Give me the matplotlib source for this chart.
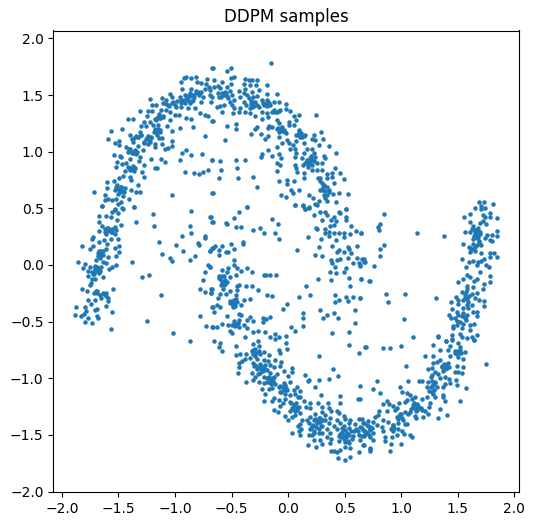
import matplotlib
matplotlib.use("Agg")
import matplotlib.pyplot as plt

TITLE = "DDPM samples"

upper_left = [(-0.675,1.736),(-0.899,1.657),(-0.923,1.648),(-0.943,1.613),(-0.861,1.648),(-0.81,1.657),(-0.805,1.613),(-0.716,1.639),(-0.725,1.595),(-0.766,1.604),(-0.698,1.575),(-0.934,1.551),(-0.855,1.551),(-0.81,1.539),(-0.737,1.551),(-0.864,1.516),(-0.796,1.53),(-0.914,1.501),(-0.958,1.486),(-0.84,1.501),(-0.781,1.516),(-0.884,1.457),(-0.84,1.457),(-0.752,1.486),(-0.692,1.501),(-1.041,1.51),(-1.111,1.478),(-1.218,1.463),(-1.023,1.486),(-1.076,1.457),(-1.017,1.442),(-0.943,1.457),(-0.914,1.433),(-0.869,1.428),(-0.678,1.442),(-0.766,1.442),(-1.105,1.428),(-1.061,1.413),(-1.206,1.413),(-1.164,1.41),(-0.987,1.398),(-0.943,1.392),(-0.884,1.383),(-0.825,1.383),(-0.781,1.339),(-0.737,1.325),(-0.707,1.316),(-0.675,1.272),(-1.306,1.357),(-1.238,1.363),(-1.2,1.36),(-1.12,1.369),(-1.076,1.369),(-1.047,1.354),(-1.002,1.325),(-0.964,1.325),(-0.905,1.295),(-0.855,1.286),(-1.041,1.281),(-1.105,1.316),(-1.15,1.31),(-1.129,1.295),(-1.164,1.281),(-1.244,1.319),(-1.412,1.286),(-1.368,1.286),(-1.277,1.266),(-1.223,1.266),(-1.297,1.228),(-1.259,1.228),(-1.194,1.237),(-1.15,1.237),(-1.067,1.228),(-0.958,1.207),(-0.837,1.216),(-1.465,1.198),(-1.563,1.181),(-1.179,1.198),(-1.135,1.192),(-1.164,1.172),(-1.023,1.184),(-1.306,1.178),(-1.395,1.145),(-1.341,1.139),(-1.297,1.148),(-1.238,1.139),(-0.731,1.137),(-1.38,1.11),(-1.327,1.128),(-1.253,1.11),(-1.209,1.119),(-1.141,1.119),(-1.111,1.122),(-1.589,1.11),(-1.498,1.095),(-1.533,1.075),(-1.371,1.089),(-1.277,1.081),(-1.223,1.089),(-1.023,1.095),(-1.179,1.069),(-1.111,1.069),(-1.023,1.054),(-1.495,1.06),(-1.436,1.04),(-1.395,1.022),(-1.327,1.054),(-1.283,1.016),(-1.356,1.016),(-1.179,1.045),(-1.061,1.031),(-1.091,1.022),(-1.415,1.001),(-1.377,0.987),(-1.341,0.981),(-0.905,1.016),(-0.934,0.987),(-0.855,0.969),(-0.757,0.978),(-0.675,0.925),(-1.536,0.972),(-1.489,0.963),(-1.474,0.951),(-1.306,0.957),(-1.4,0.934),(-1.318,0.922),(-1.209,0.937),(-1.12,0.937),(-1.091,0.913),(-0.952,0.925),(-1.513,0.913),(-1.436,0.898),(-1.468,0.892),(-1.277,0.884),(-1.519,0.863),(-1.371,0.869),(-1.415,0.863),(-1.35,0.854),(-1.395,0.84),(-1.445,0.834),(-1.288,0.825),(-1.179,0.854),(-1.159,0.854),(-0.908,0.819),(-0.828,0.81),(-0.784,0.801),(-0.749,0.819),(-0.704,0.837),(-1.46,0.787),(-1.495,0.766),(-1.395,0.781),(-1.277,0.775),(-1.598,0.731),(-1.542,0.737),(-1.386,0.746),(-1.513,0.707),(-1.474,0.692),(-1.324,0.704),(-1.604,0.681),(-1.533,0.663),(-1.489,0.663),(-1.454,0.648),(-1.386,0.663),(-1.713,0.643),(-1.341,0.643),(-1.312,0.648),(-1.504,0.628),(-1.023,0.616),(-0.675,0.634),(-1.622,0.616),(-1.46,0.61),(-1.592,0.584),(-1.622,0.575),(-1.554,0.575),(-1.518,0.581),(-1.409,0.578),(-1.474,0.56),(-1.504,0.54),(-1.642,0.519),(-1.359,0.51),(-1.465,0.501),(-1.533,0.493)]

upper_middle = [(-0.155,1.78),(-0.509,1.736),(-0.544,1.71),(-0.668,1.736),(-0.482,1.657),(-0.509,1.648),(-0.385,1.639),(-0.35,1.633),(-0.32,1.633),(-0.279,1.63),(-0.651,1.63),(-0.58,1.619),(-0.509,1.595),(-0.394,1.595),(-0.335,1.589),(-0.288,1.586),(-0.19,1.586),(-0.624,1.58),(-0.541,1.575),(-0.659,1.569),(-0.6,1.56),(-0.379,1.551),(-0.261,1.542),(-0.438,1.539),(-0.518,1.539),(-0.689,1.545),(-0.556,1.53),(-0.32,1.53),(-0.102,1.507),(-0.19,1.507),(-0.586,1.516),(-0.394,1.522),(-0.359,1.501),(-0.276,1.492),(-0.677,1.486),(-0.541,1.492),(-0.429,1.48),(-0.615,1.486),(-0.187,1.457),(-0.232,1.457),(-0.474,1.457),(-0.394,1.442),(-0.32,1.442),(-0.084,1.442),(-0.128,1.439),(-0.512,1.442),(-0.173,1.433),(-0.571,1.413),(-0.022,1.422),(-0.497,1.413),(-0.276,1.413),(-0.211,1.413),(-0.606,1.407),(-0.37,1.413),(-0.63,1.392),(-0.32,1.398),(-0.429,1.383),(-0.482,1.383),(-0.261,1.392),(-0.022,1.375),(-0.128,1.369),(-0.069,1.369),(0.013,1.363),(-0.586,1.348),(-0.488,1.345),(-0.438,1.354),(-0.379,1.354),(-0.341,1.339),(-0.232,1.354),(-0.187,1.339),(-0.143,1.348),(-0.297,1.313),(-0.182,1.31),(0.096,1.322),(0.054,1.313),(0.243,1.322),(-0.232,1.286),(-0.099,1.281),(0.066,1.278),(-0.668,1.269),(-0.084,1.251),(0.01,1.26),(-0.465,1.242),(-0.536,1.225),(-0.173,1.228),(-0.055,1.222),(0.004,1.237),(0.048,1.234),(-0.276,1.216),(-0.297,1.204),(-0.182,1.207),(-0.143,1.222),(-0.099,1.198),(-0.04,1.192),(-0.465,1.198),(0.093,1.192),(0.113,1.163),(-0.022,1.163),(-0.332,1.154),(-0.243,1.154),(0.287,1.172),(-0.182,1.142),(-0.084,1.128),(0.072,1.145),(0.152,1.145),(0.226,1.148),(-0.208,1.116),(-0.562,1.101),(0.208,1.116),(0.108,1.128),(0.305,1.11),(-0.01,1.104),(0.072,1.098),(0.24,1.104),(-0.055,1.081),(0.004,1.075),(0.137,1.081),(0.043,1.06),(0.27,1.06),(0.358,1.048),(-0.102,1.04),(0.013,1.022),(0.063,1.022),(0.167,1.022),(0.211,1.022),(-0.182,1.013),(0.226,0.987),(0.137,0.987),(0.072,0.987),(0.42,0.987),(-0.084,0.978),(-0.232,0.978),(-0.243,0.957),(-0.146,0.96),(-0.066,0.942),(0.063,0.951),(0.314,0.963),(0.329,0.942),(0.122,0.942),(0.196,0.942),(0.24,0.951),(0.255,0.898),(0.167,0.913),(-0.677,0.925),(-0.598,0.916),(-0.465,0.925),(-0.385,0.925),(0.131,0.884),(-0.099,0.898),(-0.075,0.881),(0.063,0.881),(0.172,0.869),(0.211,0.884),(0.299,0.898),(-0.456,0.854),(-0.589,0.837),(0.072,0.854),(0.411,0.854),(-0.102,0.828),(0.078,0.819),(0.137,0.81),(0.211,0.84),(0.255,0.84),(0.299,0.84),(0.344,0.804),(0.388,0.816),(0.456,0.81),(0.143,0.772),(-0.314,0.775),(-0.615,0.766),(-0.447,0.766),(0.261,0.766),(0.344,0.766),(0.388,0.775),(0.491,0.757),(-0.084,0.74),(-0.013,0.749),(0.048,0.74),(0.285,0.737),(0.403,0.722),(-0.013,0.713),(-0.279,0.687),(0.314,0.707),(0.344,0.687),(0.025,0.66),(0.093,0.66),(-0.668,0.634),(0.279,0.663),(0.358,0.663),(-0.066,0.616),(-0.022,0.598),(0.04,0.634),(0.181,0.616),(0.314,0.619),(0.394,0.625),(0.447,0.634),(0.526,0.625),(0.217,0.59),(0.329,0.59),(0.426,0.56),(0.344,0.566),(0.27,0.566),(0.24,0.54),(0.057,0.528),(0.128,0.528),(-0.367,0.51),(0.181,0.51),(0.515,0.493),(0.152,0.493)]

mid_left = [(-1.642,0.518),(-1.359,0.509),(-1.46,0.495),(-1.533,0.486),(-1.554,0.465),(-1.504,0.456),(-1.191,0.448),(-0.855,0.474),(-1.669,0.43),(-1.607,0.436),(-1.563,0.424),(-0.687,0.421),(-1.51,0.401),(-1.669,0.377),(-1.341,0.377),(-0.669,0.377),(-1.642,0.348),(-1.474,0.351),(-1.182,0.342),(-0.864,0.342),(-1.592,0.324),(-1.533,0.339),(-1.622,0.295),(-1.675,0.298),(-1.554,0.295),(-1.519,0.31),(-0.855,0.28),(-1.607,0.271),(-1.533,0.271),(-0.934,0.254),(-0.731,0.26),(-0.731,0.242),(-1.722,0.251),(-1.731,0.227),(-1.563,0.227),(-1.501,0.227),(-1.625,0.218),(-1.138,0.201),(-1.669,0.201),(-0.799,0.192),(-1.598,0.183),(-0.987,0.174),(-0.79,0.174),(-1.819,0.165),(-1.722,0.165),(-1.492,0.165),(-1.749,0.142),(-1.527,0.148),(-1.613,0.142),(-0.669,0.148),(-0.926,0.121),(-0.687,0.121),(-1.651,0.127),(-1.492,0.113),(-1.681,0.104),(-1.637,0.089),(-1.111,0.095),(-1.519,0.077),(-0.819,0.077),(-1.041,0.06),(-1.592,0.068),(-1.666,0.06),(-1.696,0.045),(-0.864,0.042),(-1.023,0.033),(-1.855,0.024),(-1.377,0.024),(-1.637,0.024),(-1.607,0.016),(-1.793,0.007),(-1.519,-0.002),(-1.754,-0.014),(-1.71,-0.008),(-1.651,-0.017),(-1.554,-0.02),(-0.707,-0.002),(-0.687,-0.02),(-1.814,-0.029),(-1.583,-0.037),(-1.71,-0.043),(-1.766,-0.055),(-1.66,-0.052),(-0.731,-0.064),(-1.725,-0.079),(-1.672,-0.073),(-1.766,-0.099),(-1.634,-0.105),(-1.226,-0.09),(-1.288,-0.108),(-1.731,-0.123),(-1.704,-0.126),(-0.749,-0.134),(-1.74,-0.161),(-1.749,-0.179),(-1.819,-0.214),(-1.545,-0.214),(-0.775,-0.214),(-0.678,-0.214),(-1.775,-0.231),(-1.69,-0.229),(-0.678,-0.246),(-0.731,-0.24),(-1.719,-0.246),(-1.637,-0.249),(-1.666,-0.264),(-1.607,-0.27),(-1.12,-0.267),(-1.651,-0.293),(-1.592,-0.293),(-1.769,-0.305),(-1.704,-0.311),(-1.589,-0.32),(-1.74,-0.346),(-1.873,-0.373),(-1.793,-0.373),(-1.607,-0.364),(-0.669,-0.373),(-1.687,-0.39),(-1.71,-0.399),(-1.784,-0.408),(-1.554,-0.417),(-1.802,-0.434),(-1.881,-0.443),(-1.828,-0.452),(-1.687,-0.452),(-0.775,-0.452),(-1.766,-0.47),(-1.678,-0.47),(-1.244,-0.496),(-1.793,-0.505),(-1.731,-0.514),(-0.722,-0.54),(-0.669,-0.549),(-1.563,-0.567),(-1.014,-0.602),(-0.864,-0.672)]

mid_center = [(-0.367,0.509),(0.057,0.527),(0.128,0.518),(0.181,0.501),(0.152,0.492),(0.255,0.527),(-0.438,0.465),(0.279,0.471),(0.329,0.465),(0.226,0.439),(0.344,0.442),(0.447,0.471),(0.515,0.492),(0.408,0.427),(0.515,0.427),(0.462,0.456),(-0.68,0.421),(-0.474,0.412),(-0.146,0.404),(0.299,0.398),(0.379,0.395),(0.426,0.392),(0.515,0.398),(-0.668,0.377),(-0.553,0.368),(-0.536,0.359),(-0.093,0.359),(-0.465,0.333),(-0.42,0.333),(-0.252,0.324),(-0.314,0.307),(0.243,0.324),(0.252,0.315),(0.373,0.348),(0.403,0.354),(0.553,0.342),(0.329,0.318),(0.323,0.28),(0.597,0.298),(0.358,0.289),(0.403,0.286),(0.447,0.28),(0.491,0.286),(0.358,0.257),(-0.217,0.28),(-0.12,0.28),(0.544,0.271),(0.641,0.28),(0.172,0.245),(0.287,0.227),(0.491,0.245),(-0.084,0.227),(0.42,0.221),(-0.403,0.207),(-0.403,0.183),(-0.509,0.183),(-0.645,0.171),(-0.58,0.165),(0.27,0.157),(0.385,0.165),(-0.482,0.139),(-0.668,0.148),(0.447,0.13),(0.526,0.157),(0.606,0.165),(0.535,0.139),(0.075,0.13),(-0.615,0.13),(-0.689,0.121),(-0.553,0.113),(-0.527,0.113),(0.432,0.113),(0.491,0.113),(0.553,0.104),(-0.615,0.086),(0.234,0.086),(0.296,0.077),(0.462,0.054),(0.606,0.06),(0.668,0.051),(0.432,0.045),(0.379,0.045),(0.526,0.06),(-0.482,0.042),(0.391,0.015),(0.571,0.015),(0.624,0.015),(0.677,0.024),(0.633,-0.005),(-0.482,0.001),(-0.527,-0.029),(-0.453,-0.029),(-0.689,-0.02),(-0.359,-0.029),(0.417,-0.02),(0.515,-0.023),(-0.583,-0.046),(-0.412,-0.055),(-0.541,-0.058),(-0.323,-0.064),(0.373,-0.064),(0.42,-0.073),(0.491,-0.064),(-0.615,-0.093),(-0.571,-0.093),(-0.512,-0.102),(-0.459,-0.087),(-0.217,-0.09),(-0.196,-0.09),(-0.164,-0.09),(-0.111,-0.09),(-0.615,-0.117),(-0.556,-0.132),(0.261,-0.126),(0.376,-0.134),(0.535,-0.117),(0.641,-0.126),(0.721,-0.143),(-0.586,-0.152),(-0.541,-0.152),(-0.438,-0.176),(-0.453,-0.19),(-0.571,-0.176),(-0.371,-0.187),(-0.323,-0.187),(0.155,-0.187),(0.544,-0.187),(-0.577,-0.211),(-0.674,-0.214),(-0.27,-0.223),(-0.512,-0.229),(-0.453,-0.223),(-0.68,-0.249),(-0.6,-0.258),(-0.553,-0.258),(-0.459,-0.264),(-0.19,-0.267),(-0.146,-0.273),(0.093,-0.284),(0.19,-0.267),(0.411,-0.264),(0.515,-0.287),(0.571,-0.284),(0.633,-0.293),(-0.624,-0.293),(-0.394,-0.311),(-0.341,-0.302),(-0.482,-0.308),(0.447,-0.308),(0.526,-0.314),(0.411,-0.329),(-0.512,-0.337),(-0.477,-0.343),(-0.453,-0.323),(-0.63,-0.352),(-0.418,-0.352),(-0.013,-0.346),(-0.668,-0.373),(-0.6,-0.373),(-0.491,-0.367),(-0.049,-0.39),(0.279,-0.399),(0.588,-0.399),(-0.651,-0.417),(0.128,-0.426),(0.403,-0.426),(0.344,-0.443),(-0.438,-0.434),(-0.418,-0.44),(-0.544,-0.452),(-0.335,-0.461),(-0.164,-0.461),(0.128,-0.47),(0.305,-0.47),(0.438,-0.47),(-0.226,-0.47),(-0.193,-0.475),(-0.438,-0.484),(-0.365,-0.484),(-0.311,-0.493),(-0.482,-0.493),(-0.223,-0.505),(0.588,-0.514),(-0.586,-0.523),(-0.527,-0.528),(-0.394,-0.534),(-0.668,-0.549),(-0.63,-0.549),(-0.497,-0.534),(-0.468,-0.543),(-0.359,-0.558),(0.022,-0.549),(0.128,-0.54),(0.057,-0.584),(-0.512,-0.581),(-0.306,-0.593),(-0.27,-0.587),(-0.2,-0.593),(0.385,-0.602),(0.535,-0.593),(-0.12,-0.611),(-0.497,-0.602),(-0.022,-0.628),(-0.379,-0.637),(-0.158,-0.637),(-0.084,-0.637),(-0.651,-0.672),(-0.12,-0.652),(-0.606,-0.69),(-0.306,-0.699),(-0.27,-0.675),(-0.022,-0.69),(-0.261,-0.711),(-0.615,-0.725),(-0.465,-0.717),(0.535,-0.708),(0.686,-0.725),(-0.58,-0.761),(-0.013,-0.743),(-0.084,-0.752),(-0.217,-0.764),(-0.32,-0.758),(-0.069,-0.778),(0.624,-0.778),(-0.429,-0.787),(-0.465,-0.796),(-0.37,-0.787),(-0.306,-0.784),(-0.173,-0.793),(0.27,-0.805),(-0.379,-0.831),(-0.409,-0.846),(-0.335,-0.822),(-0.276,-0.828),(-0.217,-0.837),(-0.114,-0.843),(-0.064,-0.858),(-0.182,-0.852),(-0.306,-0.869),(-0.438,-0.866)]

lower_center = [(-0.305,-0.891),(-0.232,-0.897),(-0.158,-0.883),(-0.069,-0.891),(0.034,-0.912),(-0.438,-0.897),(-0.276,-0.921),(-0.202,-0.921),(-0.128,-0.897),(-0.04,-0.935),(-0.447,-0.956),(-0.32,-0.956),(-0.246,-0.956),(-0.164,-0.956),(-0.099,-0.965),(0.034,-0.947),(0.152,-0.974),(-0.005,-0.98),(-0.291,-0.985),(-0.217,-0.991),(-0.128,-0.985),(0.394,-0.921),(0.438,-0.982),(0.358,-1.009),(0.27,-1.018),(0.181,-1.018),(0.172,-1.027),(-0.314,-1.015),(-0.376,-1.035),(-0.261,-1.03),(-0.187,-1.03),(-0.143,-1.03),(0.019,-1.03),(-0.034,-1.044),(-0.217,-1.044),(-0.114,-1.053),(-0.084,-1.074),(0.234,-1.079),(0.633,-1.071),(0.078,-1.074),(-0.232,-1.097),(-0.173,-1.097),(-0.143,-1.088),(-0.01,-1.103),(0.048,-1.103),(0.102,-1.109),(-0.069,-1.118),(-0.208,-1.141),(-0.025,-1.138),(0.019,-1.147),(0.063,-1.138),(0.287,-1.15),(0.456,-1.159),(0.084,-1.168),(0.108,-1.162),(-0.128,-1.177),(-0.084,-1.191),(0.615,-1.185),(0.636,-1.185),(-0.025,-1.185),(-0.143,-1.203),(-0.217,-1.203),(-0.046,-1.215),(0.019,-1.206),(0.137,-1.203),(0.261,-1.221),(0.349,-1.221),(0.456,-1.221),(0.063,-1.235),(0.19,-1.221),(-0.069,-1.244),(0.093,-1.25),(0.158,-1.25),(0.034,-1.265),(0.196,-1.265),(0.299,-1.25),(0.358,-1.265),(-0.128,-1.282),(0.019,-1.288),(0.078,-1.279),(0.299,-1.294),(0.382,-1.285),(0.432,-1.285),(-0.09,-1.3),(0.108,-1.309),(0.24,-1.315),(0.329,-1.324),(0.447,-1.303),(-0.025,-1.332),(0.034,-1.338),(0.063,-1.324),(0.196,-1.338),(0.285,-1.353),(0.373,-1.347),(0.491,-1.332),(-0.005,-1.368),(0.122,-1.368),(0.167,-1.368),(0.226,-1.368),(0.329,-1.368),(0.432,-1.368),(0.506,-1.362),(0.624,-1.356),(0.65,-1.356),(0.703,-1.379),(0.55,-1.368),(0.108,-1.403),(0.181,-1.391),(0.255,-1.397),(0.358,-1.397),(0.462,-1.391),(0.535,-1.397),(0.084,-1.421),(0.211,-1.421),(0.299,-1.421),(0.403,-1.421),(0.594,-1.403),(0.668,-1.397),(0.491,-1.421),(0.113,-1.45),(0.196,-1.45),(0.27,-1.45),(0.344,-1.45),(0.432,-1.45),(0.535,-1.441),(0.639,-1.432),(0.721,-1.432),(0.031,-1.485),(0.093,-1.47),(0.181,-1.497),(0.226,-1.485),(0.299,-1.485),(0.373,-1.485),(0.476,-1.479),(0.579,-1.47),(0.683,-1.47),(0.102,-1.503),(0.211,-1.5),(0.344,-1.52),(0.447,-1.509),(0.52,-1.5),(0.624,-1.5),(0.712,-1.5),(0.285,-1.544),(0.226,-1.544),(0.379,-1.538),(0.491,-1.538),(0.565,-1.538),(0.639,-1.544),(0.172,-1.591),(0.296,-1.579),(0.373,-1.573),(0.535,-1.568),(0.668,-1.591),(0.243,-1.609),(0.506,-1.603),(0.55,-1.618),(0.727,-1.626),(0.376,-1.644),(0.403,-1.644),(0.429,-1.653),(0.456,-1.635),(0.624,-1.647),(0.438,-1.706),(0.544,-1.697),(0.5,-1.723)]

lower_right = [(1.002,-0.718),(0.683,-0.727),(0.843,-0.735),(0.904,-0.735),(1.285,-0.709),(1.4,-0.674),(1.453,-0.665),(1.506,-0.691),(1.648,-0.665),(1.433,-0.718),(1.521,-0.721),(1.347,-0.753),(1.418,-0.753),(1.477,-0.774),(1.515,-0.765),(1.568,-0.771),(1.214,-0.806),(1.285,-0.806),(1.433,-0.803),(1.506,-0.809),(1.55,-0.833),(1.344,-0.838),(1.32,-0.856),(1.285,-0.868),(1.418,-0.868),(1.492,-0.891),(1.545,-0.903),(1.754,-0.877),(1.046,-0.894),(1.27,-0.912),(1.359,-0.897),(1.403,-0.912),(1.241,-0.921),(1.3,-0.941),(1.374,-0.932),(1.477,-0.941),(1.506,-0.941),(1.542,-0.956),(1.27,-0.971),(1.329,-0.962),(1.388,-0.985),(1.261,-0.991),(1.344,-1.0),(1.427,-1.009),(1.486,-1.018),(0.789,-1.027),(1.064,-1.027),(1.161,-1.027),(1.182,-1.027),(1.241,-1.03),(1.3,-1.044),(1.388,-1.05),(1.433,-1.044),(1.226,-1.074),(1.27,-1.068),(1.32,-1.079),(1.368,-1.074),(1.492,-1.062),(0.993,-1.079),(0.754,-1.097),(1.574,-1.088),(1.011,-1.124),(1.27,-1.118),(0.816,-1.132),(1.055,-1.132),(1.079,-1.147),(1.285,-1.138),(1.368,-1.147),(1.3,-1.162),(1.374,-1.162),(1.123,-1.168),(1.093,-1.185),(1.049,-1.191),(1.182,-1.185),(1.232,-1.168),(0.872,-1.197),(1.385,-1.2),(1.524,-1.203),(0.984,-1.215),(1.034,-1.206),(1.114,-1.221),(0.843,-1.23),(0.896,-1.226),(0.931,-1.244),(1.256,-1.221),(1.152,-1.244),(1.108,-1.25),(1.25,-1.25),(0.966,-1.259),(1.173,-1.265),(0.872,-1.285),(0.946,-1.279),(1.034,-1.294),(1.138,-1.279),(1.347,-1.274),(0.807,-1.291),(1.211,-1.285),(1.079,-1.294),(0.99,-1.315),(1.064,-1.315),(1.241,-1.315),(1.409,-1.326),(1.123,-1.332),(1.196,-1.338),(0.798,-1.324),(0.769,-1.344),(0.96,-1.344),(1.329,-1.353),(0.843,-1.368),(1.02,-1.368),(1.132,-1.353),(0.754,-1.382),(0.887,-1.382),(0.975,-1.391),(0.666,-1.391),(1.034,-1.403),(0.695,-1.412),(0.784,-1.412),(0.931,-1.412),(0.828,-1.432),(0.916,-1.441),(1.049,-1.403),(0.724,-1.45),(0.975,-1.45),(0.651,-1.441),(0.843,-1.47),(0.931,-1.47),(1.005,-1.47),(0.754,-1.485),(0.695,-1.485),(1.025,-1.491),(0.96,-1.5),(1.079,-1.5),(1.099,-1.52),(0.86,-1.515),(0.916,-1.52),(0.724,-1.515),(0.651,-1.509),(0.86,-1.556),(0.754,-1.544),(0.913,-1.582),(1.002,-1.582),(0.666,-1.591),(0.727,-1.618),(0.727,-1.638),(0.904,-1.644)]

right_arm = [(1.692,0.553),(1.736,0.553),(1.816,0.536),(1.71,0.524),(1.657,0.5),(1.71,0.491),(1.745,0.5),(1.612,0.447),(0.851,0.447),(1.781,0.456),(1.719,0.439),(1.559,0.421),(1.745,0.421),(1.781,0.421),(1.851,0.412),(1.604,0.377),(1.719,0.386),(1.701,0.368),(1.754,0.359),(0.816,0.359),(0.798,0.333),(0.807,0.306),(1.639,0.344),(1.624,0.315),(1.654,0.309),(1.683,0.324),(1.843,0.297),(1.568,0.289),(1.61,0.289),(1.143,0.28),(0.642,0.28),(1.654,0.28),(1.698,0.294),(1.807,0.262),(1.382,0.253),(1.683,0.25),(1.763,0.265),(1.843,0.253),(1.742,0.236),(1.639,0.227),(1.786,0.218),(1.807,0.209),(1.692,0.206),(1.55,0.183),(0.851,0.174),(1.639,0.183),(1.669,0.177),(1.704,0.177),(1.61,0.147),(1.654,0.156),(0.816,0.139),(1.604,0.112),(1.654,0.121),(1.71,0.103),(1.789,0.103),(1.825,0.103),(0.816,0.077),(1.781,0.068),(1.851,0.068),(1.542,0.05),(0.657,0.05),(0.674,0.024),(1.601,0.024),(1.639,0.033),(1.683,0.03),(1.733,0.05),(1.704,0.039),(0.636,-0.002),(0.763,-0.011),(1.577,-0.02),(1.669,0.0),(1.751,0.0),(1.772,-0.02),(1.701,-0.064),(1.58,-0.091),(1.781,-0.1),(1.61,-0.108),(1.55,-0.126),(0.642,-0.126),(1.674,-0.126),(1.648,-0.144),(0.719,-0.144),(1.506,-0.152),(1.789,-0.152),(1.736,-0.17),(1.586,-0.182),(1.639,-0.196),(1.719,-0.214),(1.58,-0.214),(1.536,-0.235),(1.669,-0.25),(1.624,-0.258),(0.869,-0.258),(1.037,-0.258),(1.565,-0.267),(1.312,-0.294),(0.636,-0.294),(1.486,-0.285),(1.654,-0.294),(1.506,-0.308),(1.692,-0.311),(0.887,-0.329),(1.444,-0.329),(1.736,-0.32),(1.506,-0.343),(1.58,-0.352),(1.624,-0.352),(1.728,-0.364),(1.453,-0.391),(1.55,-0.382),(1.595,-0.382),(1.497,-0.411),(1.639,-0.411),(1.674,-0.417),(1.55,-0.42),(1.421,-0.443),(1.674,-0.452),(1.565,-0.461),(1.438,-0.47),(1.477,-0.47),(1.028,-0.479),(1.574,-0.49),(1.497,-0.496),(1.648,-0.523),(1.61,-0.532),(1.456,-0.543),(1.542,-0.558),(1.492,-0.529),(1.61,-0.573),(1.462,-0.558),(1.323,-0.629),(1.329,-0.637),(1.108,-0.637),(1.453,-0.617),(1.521,-0.611),(1.674,-0.62),(1.58,-0.646),(1.624,-0.635),(1.453,-0.655),(1.536,-0.632),(1.648,-0.664),(1.4,-0.673)]

clumps_upper = [(-0.89,1.47),(-0.87,1.49),(-0.85,1.45),(-0.83,1.48),(-0.81,1.52),(-0.79,1.5),(-0.77,1.53),(-0.88,1.5),(-0.92,1.46),(-0.95,1.43),(-0.98,1.45),(-1.0,1.41),(-1.03,1.43),(-1.05,1.4),(-1.08,1.42),(-1.13,1.3),(-1.16,1.3),(-1.14,1.33),(-1.11,1.31),(-1.18,1.29),(-1.17,1.18),(-1.15,1.2),(-1.19,1.17),(-1.13,1.17),(-1.16,1.15),(-1.25,1.12),(-1.23,1.1),(-1.21,1.13),(-1.27,1.09),(-1.24,1.07),(-1.33,1.13),(-1.36,1.12),(-1.3,1.15),(-1.38,1.0),(-1.36,0.99),(-1.41,1.02),(-1.34,1.0),(-1.39,0.85),(-1.37,0.87),(-1.41,0.86),(-1.36,0.83),(-1.5,0.67),(-1.48,0.69),(-1.46,0.65),(-1.49,0.64),(-1.52,0.69),(-1.44,0.68),(-0.57,1.5),(-0.55,1.52),(-0.59,1.48),(-0.53,1.47),(-0.62,1.52),(-0.5,1.5),(-0.33,1.45),(-0.31,1.48),(-0.35,1.47),(-0.29,1.44),(-0.33,1.42),(-0.3,1.4),(-0.34,1.39),(-0.2,1.42),(-0.18,1.44),(-0.22,1.43),(-0.16,1.41),(-0.19,1.4),(-0.1,1.35),(-0.08,1.36),(-0.12,1.35),(-0.09,1.21),(-0.07,1.19),(-0.05,1.18),(-0.06,1.21),(-0.03,1.17),(-0.08,1.17),(0.1,1.17),(0.12,1.13),(0.09,1.15),(0.14,1.14),(0.17,0.93),(0.19,0.91),(0.21,0.93),(0.15,0.9),(0.18,0.89),(0.2,0.96),(0.23,0.92),(0.28,0.77),(0.3,0.72),(0.31,0.69),(0.33,0.65),(0.34,0.62),(0.36,0.64),(0.3,0.66)]

clumps_middle = [(-1.62,0.32),(-1.6,0.3),(-1.58,0.31),(-1.6,0.33),(-1.57,0.29),(-1.56,0.32),(-1.66,0.1),(-1.67,0.12),(-1.65,0.09),(-1.68,0.08),(-1.64,0.12),(-1.71,-0.03),(-1.69,-0.02),(-1.7,-0.05),(-1.73,-0.06),(-1.68,-0.04),(-1.72,-0.08),(-1.63,-0.26),(-1.61,-0.25),(-1.69,-0.25),(-1.7,-0.23),(-0.58,-0.1),(-0.6,-0.12),(-0.57,-0.14),(-0.59,-0.18),(-0.56,-0.17),(-0.5,-0.33),(-0.48,-0.31),(-0.47,-0.36),(-0.49,-0.35),(-0.46,-0.3),(-0.51,-0.32),(-0.47,-0.33),(-0.46,-0.53),(-0.48,-0.52),(-0.44,-0.51),(-0.43,-0.55)]

clumps_lower = [(-0.31,-0.75),(-0.29,-0.74),(-0.28,-0.78),(-0.26,-0.76),(-0.25,-0.79),(-0.29,-0.8),(-0.25,-0.87),(-0.27,-0.9),(-0.29,-0.88),(-0.24,-0.92),(-0.22,-0.9),(-0.2,-0.88),(-0.22,-0.94),(-0.19,-0.93),(-0.27,-0.96),(-0.17,-0.99),(-0.19,-1.0),(-0.15,-1.01),(-0.13,-1.0),(-0.17,-1.03),(-0.15,-1.05),(-0.13,-1.02),(-0.05,-1.08),(-0.03,-1.06),(-0.07,-1.07),(-0.04,-1.1),(-0.02,-1.09),(-0.06,-1.12),(0.03,-1.22),(0.05,-1.24),(0.07,-1.22),(0.04,-1.27),(0.08,-1.26),(0.06,-1.29),(0.24,-1.36),(0.26,-1.38),(0.28,-1.39),(0.22,-1.41),(0.25,-1.43),(0.29,-1.42),(0.27,-1.35),(0.31,-1.37),(0.2,-1.44),(0.23,-1.47),(0.27,-1.48),(0.5,-1.46),(0.52,-1.48),(0.49,-1.5),(0.47,-1.52),(0.51,-1.52),(0.54,-1.5),(0.56,-1.47),(0.48,-1.44),(0.46,-1.49),(0.53,-1.55),(0.5,-1.56),(0.57,-1.51),(0.45,-1.55),(0.6,-1.45),(0.62,-1.47),(0.66,-1.46),(0.7,-1.48),(0.72,-1.46),(0.68,-1.49),(0.74,-1.44),(0.71,-1.42),(0.67,-1.51)]

clumps_right = [(1.1,-1.24),(1.12,-1.26),(1.14,-1.23),(1.16,-1.26),(1.18,-1.28),(1.13,-1.29),(1.09,-1.27),(0.98,-1.33),(1.0,-1.32),(0.97,-1.36),(1.01,-1.35),(0.93,-1.41),(0.91,-1.45),(0.94,-1.44),(1.26,-1.08),(1.28,-1.06),(1.25,-1.11),(1.29,-1.1),(1.3,-1.03),(1.27,-1.02),(1.4,-0.88),(1.38,-0.87),(1.42,-0.9),(1.36,-0.89),(1.39,-0.92),(1.5,-0.76),(1.52,-0.75),(1.48,-0.76),(1.53,-0.78),(1.49,-0.79),(1.66,0.27),(1.68,0.3),(1.64,0.26),(1.7,0.27),(1.67,0.24),(1.65,0.31),(1.69,0.21),(1.6,0.16),(1.63,0.14),(1.58,-0.3),(1.56,-0.29),(1.6,-0.27),(1.57,-0.24),(1.59,-0.33),(1.55,-0.31),(1.54,-0.45),(1.56,-0.47),(1.52,-0.5),(1.55,-0.52),(1.5,-0.44),(1.58,-0.44)]

regions = [upper_left, upper_middle, mid_left, mid_center, lower_center, lower_right, right_arm,
           clumps_upper, clumps_middle, clumps_lower, clumps_right]
points = [p for region in regions for p in region]
xs = [p[0] for p in points]
ys = [p[1] for p in points]

fig = plt.figure(figsize=(5.35, 5.26), dpi=100)
ax = fig.add_axes([53.3 / 535, 33.7 / 526, 465.4 / 535, 461.8 / 526])
ax.scatter(xs, ys, s=5, color="tab:blue")
ax.set_xlim(-2.076, 2.039)
ax.set_ylim(-2.007, 2.07)
ax.set_xticks([-2, -1.5, -1, -0.5, 0, 0.5, 1, 1.5, 2])
ax.set_yticks([-2, -1.5, -1, -0.5, 0, 0.5, 1, 1.5, 2])
ax.set_title(TITLE)
fig.savefig("out.png", dpi=100)
print(len(points))
